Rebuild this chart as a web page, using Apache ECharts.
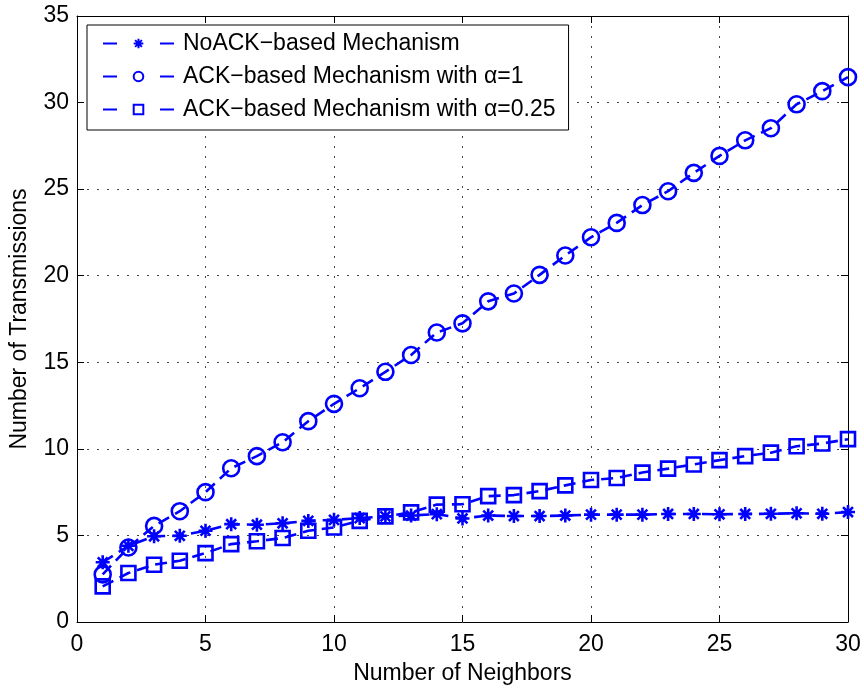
<!DOCTYPE html>
<html>
<head>
<meta charset="utf-8">
<script src="https://cdn.jsdelivr.net/npm/echarts@6/dist/echarts.min.js"></script>
<style>html,body{margin:0;padding:0;background:#fff}#c{width:864px;height:690px}</style>
</head>
<body>
<div id="c"></div>
<script>
const neighbors = [1,2,3,4,5,6,7,8,9,10,11,12,13,14,15,16,17,18,19,20,21,22,23,24,25,26,27,28,29,30];
const noAck = [3.45,4.4,4.95,4.98,5.27,5.65,5.62,5.7,5.84,5.9,6.0,6.1,6.15,6.23,5.98,6.15,6.12,6.12,6.15,6.2,6.2,6.2,6.24,6.24,6.22,6.24,6.25,6.28,6.25,6.35];
const ackAlpha1 = [2.75,4.3,5.55,6.4,7.5,8.88,9.58,10.38,11.6,12.6,13.5,14.45,15.42,16.72,17.25,18.52,18.97,20.05,21.17,22.22,23.05,24.08,24.88,25.94,26.92,27.82,28.52,29.9,30.66,31.47];
const ackAlpha025 = [2.06,2.83,3.31,3.54,3.98,4.5,4.66,4.85,5.27,5.46,5.84,6.1,6.33,6.78,6.8,7.27,7.33,7.56,7.89,8.2,8.32,8.63,8.86,9.1,9.35,9.58,9.78,10.15,10.31,10.56];
const seriesNames = ['NoACK\u2212based Mechanism','ACK\u2212based Mechanism with \u03b1=1','ACK\u2212based Mechanism with \u03b1=0.25'];
const xTicks = {min:0,max:30,interval:5};
const yTicks = {min:0,max:35,interval:5};

const blue = '#0000ff';
const font = 'Liberation Sans, Arial, Helvetica, sans-serif';
const fs = 23;
const asterisk = 'path://M0,-10L0,10M-10,0L10,0M-7.07,-7.07L7.07,7.07M-7.07,7.07L7.07,-7.07';
const dash = [12,7];

function mk(name, ys, symbol, size, extra) {
  return Object.assign({
    name: name,
    type: 'line',
    data: neighbors.map((x,i)=>[x, ys[i]]),
    symbol: symbol,
    symbolSize: size,
    showAllSymbol: true,
    lineStyle: {color: blue, width: 2.6, type: dash},
    itemStyle: {color: 'rgba(0,0,0,0)', borderColor: blue, borderWidth: 2.6},
    emphasis: {disabled: true},
    animation: false,
    z: 3
  }, extra || {});
}

const chart = echarts.init(document.getElementById('c'), null, {renderer:'canvas'});
const axisCommon = {
  axisLine: {show: true, onZero: false, lineStyle: {color: '#000', width: 1}},
  axisTick: {show: true, inside: true, length: 7, lineStyle: {color: '#000'}},
  axisLabel: {color: '#000', fontFamily: font, fontSize: fs},
  nameTextStyle: {color: '#000', fontFamily: font, fontSize: fs}
};
chart.setOption({
  backgroundColor: '#fff',
  textStyle: {fontFamily: font},
  grid: {left: 76, right: 16, top: 16, bottom: 67, containLabel: false},
  xAxis: [
    Object.assign({}, axisCommon, {
      type: 'value', min: xTicks.min, max: xTicks.max, interval: xTicks.interval,
      name: 'Number of Neighbors', nameLocation: 'middle', nameGap: 40,
      axisLabel: Object.assign({}, axisCommon.axisLabel, {margin: 11}),
      splitLine: {show: true, lineStyle: {color: '#444', width: 1, type: [2,8]}}
    }),
    Object.assign({}, axisCommon, {
      type: 'value', position: 'top', min: xTicks.min, max: xTicks.max, interval: xTicks.interval,
      axisLabel: {show: false}, splitLine: {show: false}
    })
  ],
  yAxis: [
    Object.assign({}, axisCommon, {
      type: 'value', min: yTicks.min, max: yTicks.max, interval: yTicks.interval,
      name: 'Number of Transmissions', nameLocation: 'middle', nameGap: 46,
      axisLabel: Object.assign({}, axisCommon.axisLabel, {margin: 8}),
      splitLine: {show: true, lineStyle: {color: '#444', width: 1, type: [2,8]}}
    }),
    Object.assign({}, axisCommon, {
      type: 'value', position: 'right', min: yTicks.min, max: yTicks.max, interval: yTicks.interval,
      axisLabel: {show: false}, splitLine: {show: false}
    })
  ],
  legend: {
    orient: 'vertical', left: 87, top: 25,
    padding: [7, 13, 9, 15],
    backgroundColor: '#fff', borderColor: '#000', borderWidth: 1,
    itemWidth: 71, itemHeight: 12, itemGap: 10,
    lineStyle: {type: [14, 43]},
    textStyle: {color: '#000', fontFamily: font, fontSize: fs, padding: [0,0,0,4]},
    data: seriesNames,
    selectedMode: false
  },
  series: [
    mk(seriesNames[0], noAck, asterisk, 14, {itemStyle: {color: blue, borderColor: blue, borderWidth: 2.6}}),
    mk(seriesNames[1], ackAlpha1, 'circle', 16),
    mk(seriesNames[2], ackAlpha025, 'rect', 14)
  ]
});
</script>
</body>
</html>
